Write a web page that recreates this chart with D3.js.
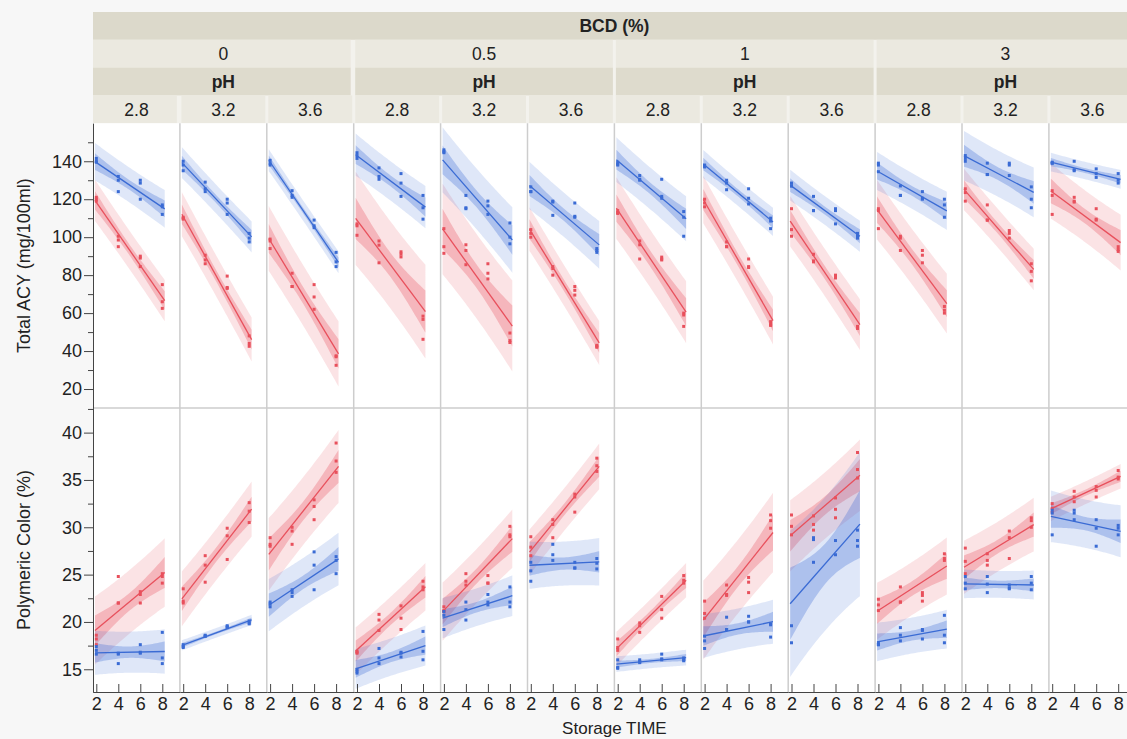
<!DOCTYPE html>
<html>
<head>
<meta charset="utf-8">
<script src="https://cdn.jsdelivr.net/npm/d3@7"></script>
<style>
body { margin: 0; background: #f7f7f7; overflow: hidden; }
svg { display: block; font-family: "Liberation Sans", Arial, sans-serif; }
</style>
</head>
<body>
<svg id="chart" width="1127" height="739"></svg>
<script>
var bcdLevels = ["0", "0.5", "1", "3"];
var phLevels = ["2.8", "3.2", "3.6"];
var times = [2, 4, 6, 8];
var acyTicks = [20, 40, 60, 80, 100, 120, 140];
var acyMinor = [30, 50, 70, 90, 110, 130, 150];
var pcTicks = [15, 20, 25, 30, 35, 40];
var pcMinor = [17.5, 22.5, 27.5, 32.5, 37.5, 42.5];

// one entry per panel (BCD 0: pH 2.8, 3.2, 3.6, then BCD 0.5, 1, 3),
// each holding the replicates read at TIME 2, 4, 6, 8
var acyRed = [
  [[121, 120, 119], [100.5, 98.5, 95], [90, 89, 84.5], [75, 66, 62.5]],
  [[110.5, 110, 109.5], [90.5, 88, 86], [79.5, 73.5, 73], [48, 44, 42.5]],
  [[99, 98, 94], [81, 74, 74], [75, 68.5, 62], [37.5, 37, 32.5]],
  [[101, 106, 107], [98, 95.8, 86.5], [92.3, 91.1, 89.6], [58.4, 56.7, 46.2]],
  [[104.5, 95, 91.5], [96, 93, 85.5], [86, 81, 78], [49.5, 45.5, 44.5]],
  [[104, 102, 100], [84.5, 83.5, 80], [74, 72, 69.5], [43, 42.5, 42]],
  [[114, 113, 112.5], [98, 96, 88.5], [89.5, 88.5, 88], [60, 59, 53]],
  [[120, 118, 116], [97.5, 95, 95], [88.5, 84.5, 84], [55.5, 54, 53.5]],
  [[115, 104, 100.5], [91, 87.5, 87], [80, 79, 78.5], [53, 52, 52]],
  [[115, 114, 104.5], [100.5, 99.5, 93], [93, 90.5, 86.5], [63.5, 61.5, 60]],
  [[125.5, 123.5, 119], [117, 109, 109], [103.5, 102, 99.5], [86, 82, 77]],
  [[124.5, 122, 112], [121, 119, 118.5], [115, 109.5, 109], [95, 93.5, 92.5]]
];
var acyBlue = [
  [[141.5, 140, 139.5], [132, 130, 124], [130, 128.5, 120], [117, 116, 112]],
  [[140, 138, 135], [129, 125.5, 124], [120, 118, 112], [102, 99.5, 97.5]],
  [[140.5, 139, 138], [124.5, 122, 121], [109, 106, 105], [92, 87, 84.5]],
  [[144.5, 143, 141.5], [136.5, 132, 130.5], [133.5, 128.5, 121.5], [122, 115.5, 109.5]],
  [[146, 145, 144.5], [122, 115.5, 115], [119, 116.5, 112], [107.5, 100, 96.5]],
  [[126.5, 124, 124], [119, 118.5, 111.5], [118, 111, 110.5], [94, 93, 92]],
  [[139.5, 138.5, 138], [132.5, 130.5, 130], [130.5, 121.5, 120.5], [113.5, 110.5, 100.5]],
  [[138, 137.5, 137], [130, 128.5, 125], [125.5, 120.5, 117.5], [110, 108.5, 104.5]],
  [[128.5, 127, 127], [121.5, 114, 114], [115, 114, 107], [102, 100.5, 99.5]],
  [[139, 138, 134.5], [127, 122, 122], [124, 120.5, 120], [120, 117, 110.5]],
  [[143, 141.5, 140], [139, 133, 133], [139, 138, 132.5], [126.5, 120, 115.5]],
  [[139.5, 139, 139], [140, 135.5, 135], [136, 133.5, 131.5], [133.5, 130, 128.5]]
];
var pcRed = [
  [[18.6, 18.2, 17.6], [24.8, 22, 22], [23.2, 22.9, 22], [25.1, 24.8, 24.1]],
  [[23.5, 22.2, 22], [27, 26, 24.2], [29.9, 29.1, 26.6], [32.6, 31.7, 30.5]],
  [[28.9, 28.2, 28], [30, 29.6, 28.2], [32.9, 32.2, 30.8], [38.9, 37, 35.8]],
  [[16.9, 16.8, 16.7], [20.8, 20.2, 19.1], [21.7, 20.4, 19.2], [24.3, 23.7, 23.4]],
  [[21.6, 21.2, 21.1], [25.1, 24.3, 23.9], [24.9, 24.1, 24.1], [30.1, 29.2, 29]],
  [[29, 27.9, 27], [30.8, 30.3, 28.9], [33.5, 33.2, 31.6], [37.3, 36.5, 35.9]],
  [[18.2, 17.3, 17], [19.9, 19.6, 18.9], [22.7, 21.3, 20.4], [24.9, 24.4, 24.1]],
  [[22.2, 20.9, 20.4], [23.9, 22.9, 22.8], [24.7, 24.2, 23.1], [31.3, 30.7, 29.9]],
  [[31.3, 30.1, 29.2], [31.2, 30.3, 29.7], [33.1, 31.9, 31], [37.9, 36.1, 35.2]],
  [[22.4, 21.8, 21.2], [23.7, 22.1, 22.1], [23.1, 22.8, 22.2], [27.2, 26.7, 26.5]],
  [[27.8, 26.4, 25.1], [27.2, 26.5, 26], [29.6, 28.9, 26.7], [31, 30.7, 30]],
  [[32.5, 32, 31.6], [33.8, 33.2, 32.7], [34.3, 33.9, 33.2], [36, 35.3, 35.1]]
];
var pcBlue = [
  [[17.4, 17, 16.6], [16.7, 16.6, 15.6], [17.6, 16.8, 16.7], [18.9, 16.2, 15.6]],
  [[17.6, 17.4, 17.3], [18.6, 18.5, 18.5], [19.6, 19.5, 19.4], [20.1, 19.9, 19.8]],
  [[22.1, 21.9, 21.6], [23.4, 23.1, 22.7], [27.4, 26, 23.4], [26.9, 26.5, 25.1]],
  [[15, 14.8, 14.6], [17.2, 16.2, 15.6], [16.8, 16.7, 16.3], [19, 16.9, 16]],
  [[21.1, 20.7, 19.2], [22.1, 21.3, 20.2], [22.9, 22.1, 21.8], [23.7, 22.1, 21.6]],
  [[26.3, 25.4, 24.3], [28.2, 27.1, 26.5], [26.3, 25.7, 25.7], [26.7, 26.2, 25.6]],
  [[16, 15.2, 15.1], [16, 15.8, 15.7], [16.6, 16.1, 16], [16.2, 16, 15.9]],
  [[18.5, 18, 17.2], [20.5, 19.2, 19.2], [20.6, 20, 20], [19.8, 19.7, 18.4]],
  [[19.6, 17.8], [28.9, 28.7, 26.3], [28.6, 27.1], [29.7, 28.6, 28]],
  [[17.8, 17.6, 17.6], [19.4, 18.6, 18], [19.2, 19.1, 18.2], [20.7, 18.6, 17.8]],
  [[24.8, 24.1, 23.5], [24.8, 24, 23.1], [23.9, 23.6, 23.5], [24.8, 24.1, 23.4]],
  [[31.8, 31.5, 29.2], [31.8, 31.5, 30.8], [30.8, 29.9, 28], [30.2, 29.9, 29.2]]
];

var RED = "#e8505c", BLUE = "#3a6bd4";
var LEFT = 93, PW = 86.9, TOP = 12, RH = 27.8;
var PLOT_TOP = 123.3, MID = 408, BOTTOM = 692;
var FIT_FROM = 1.88, FIT_TO = 8.22;

// two-sided 95% t quantiles by degrees of freedom
var tq = {8: 2.306, 9: 2.262, 10: 2.228, 11: 2.201, 12: 2.179};

var svg = d3.select("#chart");
var x = d3.scaleLinear().domain([1.7, 9.6]).range([0, PW]);
var yAcy = d3.scaleLinear().domain([10, 160]).range([MID, PLOT_TOP]);
var yPc = d3.scaleLinear().domain([12.6, 42.6]).range([BOTTOM, MID]);

var fit = function(reps) {
  var pts = [];
  reps.forEach(function(vals, i) {
    vals.forEach(function(v) { pts.push([times[i], v]); });
  });
  var n = pts.length;
  var mx = d3.mean(pts, function(d) { return d[0]; });
  var my = d3.mean(pts, function(d) { return d[1]; });
  var sxx = d3.sum(pts, function(d) { return (d[0] - mx) * (d[0] - mx); });
  var sxy = d3.sum(pts, function(d) { return (d[0] - mx) * (d[1] - my); });
  var b = sxy / sxx, a = my - b * mx;
  var sse = d3.sum(pts, function(d) { var r = d[1] - a - b * d[0]; return r * r; });
  var s = Math.sqrt(sse / (n - 2)), t = tq[n - 2];
  return {
    pts: pts,
    f: function(v) { return a + b * v; },
    ci: function(v) { return t * s * Math.sqrt(1 / n + (v - mx) * (v - mx) / sxx); },
    pi: function(v) { return t * s * Math.sqrt(1 + 1 / n + (v - mx) * (v - mx) / sxx); }
  };
};

// ---- header strips
var hdr = svg.append("g");
var totalW = PW * 12;
hdr.append("rect").attr("x", LEFT).attr("y", TOP + RH)
  .attr("width", totalW).attr("height", RH * 3).attr("fill", "#f3f2ed");
hdr.append("rect").attr("x", LEFT).attr("y", TOP)
  .attr("width", totalW).attr("height", RH).attr("fill", "#dcd9cb");
hdr.append("text").attr("x", LEFT + totalW / 2).attr("y", TOP + RH / 2)
  .attr("dy", "0.36em").attr("text-anchor", "middle")
  .attr("font-size", 17.5).attr("font-weight", "bold").attr("fill", "#222")
  .text("BCD (%)");

bcdLevels.forEach(function(b, i) {
  var gx = LEFT + i * 3 * PW;
  hdr.append("rect").attr("x", gx + (i > 0 ? 1.5 : 0)).attr("y", TOP + RH)
    .attr("width", 3 * PW - 3).attr("height", RH).attr("fill", "#ebe9e0");
  hdr.append("text").attr("x", gx + 1.5 * PW).attr("y", TOP + RH * 1.5)
    .attr("dy", "0.36em").attr("text-anchor", "middle")
    .attr("font-size", 17.5).attr("fill", "#222").text(b);
  hdr.append("rect").attr("x", gx + (i > 0 ? 1.5 : 0)).attr("y", TOP + RH * 2)
    .attr("width", 3 * PW - 3).attr("height", RH).attr("fill", "#dedbcd");
  hdr.append("text").attr("x", gx + 1.5 * PW).attr("y", TOP + RH * 2.5)
    .attr("dy", "0.36em").attr("text-anchor", "middle")
    .attr("font-size", 17.5).attr("font-weight", "bold").attr("fill", "#222").text("pH");
  phLevels.forEach(function(p, j) {
    var cx = gx + j * PW;
    hdr.append("rect").attr("x", cx + (i + j > 0 ? 1.5 : 0)).attr("y", TOP + RH * 3)
      .attr("width", PW - 3).attr("height", RH).attr("fill", "#ebe9e0");
    hdr.append("text").attr("x", cx + PW / 2).attr("y", TOP + RH * 3.5)
      .attr("dy", "0.36em").attr("text-anchor", "middle")
      .attr("font-size", 17.5).attr("fill", "#222").text(p);
  });
});

// ---- panels
svg.append("rect").attr("x", LEFT).attr("y", PLOT_TOP)
  .attr("width", totalW).attr("height", BOTTOM - PLOT_TOP).attr("fill", "#fff");

var rows = [
  {red: acyRed, blue: acyBlue, y: yAcy, top: PLOT_TOP, bottom: MID},
  {red: pcRed, blue: pcBlue, y: yPc, top: MID, bottom: BOTTOM}
];
var grid = d3.range(0, 41).map(function(i) { return FIT_FROM + i * (FIT_TO - FIT_FROM) / 40; });
var defs = svg.append("defs");

rows.forEach(function(row, r) {
  for (var k = 0; k < 12; k++) {
    var gx = LEFT + k * PW;
    var id = "clip" + r + "_" + k;
    defs.append("clipPath").attr("id", id).append("rect")
      .attr("x", 0).attr("y", row.top).attr("width", PW).attr("height", row.bottom - row.top);
    var g = svg.append("g").attr("transform", "translate(" + gx + ",0)")
      .attr("clip-path", "url(#" + id + ")");
    var series = [{c: RED, m: fit(row.red[k])}, {c: BLUE, m: fit(row.blue[k])}];
    series.forEach(function(s) {
      var m = s.m;
      g.append("path").datum(grid).attr("fill", s.c).attr("fill-opacity", 0.16)
        .attr("d", d3.area().x(function(d) { return x(d); })
          .y0(function(d) { return row.y(m.f(d) - m.pi(d)); })
          .y1(function(d) { return row.y(m.f(d) + m.pi(d)); }));
      g.append("path").datum(grid).attr("fill", s.c).attr("fill-opacity", 0.3)
        .attr("d", d3.area().x(function(d) { return x(d); })
          .y0(function(d) { return row.y(m.f(d) - m.ci(d)); })
          .y1(function(d) { return row.y(m.f(d) + m.ci(d)); }));
    });
    series.forEach(function(s) {
      var m = s.m;
      g.append("path").datum([FIT_FROM, FIT_TO]).attr("fill", "none")
        .attr("stroke", s.c).attr("stroke-width", 1.3)
        .attr("d", d3.line().x(function(d) { return x(d); }).y(function(d) { return row.y(m.f(d)); }));
      g.selectAll(null).data(m.pts).enter().append("rect")
        .attr("x", function(d) { return x(d[0]) - 1.5; })
        .attr("y", function(d) { return row.y(d[1]) - 1.5; })
        .attr("width", 3).attr("height", 3).attr("fill", s.c);
    });
  }
});

// separators
for (var k = 1; k < 12; k++) {
  svg.append("line").attr("x1", LEFT + k * PW).attr("x2", LEFT + k * PW)
    .attr("y1", PLOT_TOP).attr("y2", BOTTOM)
    .attr("stroke", "#cdcdcd").attr("stroke-width", 1.5);
}
svg.append("line").attr("x1", LEFT).attr("x2", LEFT + totalW)
  .attr("y1", MID).attr("y2", MID).attr("stroke", "#cdcdcd").attr("stroke-width", 1.5);

// ---- axes
var styleAxis = function(g) {
  g.attr("font-family", "'Liberation Sans', Arial, sans-serif").attr("font-size", 18);
  g.selectAll("path, line").attr("stroke", "#444");
  g.selectAll("text").attr("fill", "#222");
};
[[yAcy, acyTicks, acyMinor], [yPc, pcTicks, pcMinor]].forEach(function(a) {
  svg.append("g").attr("transform", "translate(" + LEFT + ",0)")
    .call(d3.axisLeft(a[0]).tickValues(a[2]).tickSize(5).tickSizeOuter(0).tickFormat(""))
    .call(styleAxis);
  svg.append("g").attr("transform", "translate(" + LEFT + ",0)")
    .call(d3.axisLeft(a[0]).tickValues(a[1]).tickSize(9).tickSizeOuter(0).tickPadding(2))
    .call(styleAxis);
});
for (var k = 0; k < 12; k++) {
  svg.append("g").attr("transform", "translate(" + (LEFT + k * PW) + "," + BOTTOM + ")")
    .call(d3.axisBottom(x).tickValues(times).tickSize(-8).tickSizeOuter(0).tickPadding(5))
    .call(styleAxis);
}

svg.append("text").attr("transform", "translate(30," + ((PLOT_TOP + MID) / 2) + ") rotate(-90)")
  .attr("text-anchor", "middle").attr("font-size", 18).attr("fill", "#222")
  .text("Total ACY (mg/100ml)");
svg.append("text").attr("transform", "translate(30," + ((MID + BOTTOM) / 2) + ") rotate(-90)")
  .attr("text-anchor", "middle").attr("font-size", 18).attr("fill", "#222")
  .text("Polymeric Color (%)");
svg.append("text").attr("x", LEFT + totalW / 2).attr("y", 734)
  .attr("text-anchor", "middle").attr("font-size", 17).attr("fill", "#222")
  .text("Storage TIME");
</script>
</body>
</html>
